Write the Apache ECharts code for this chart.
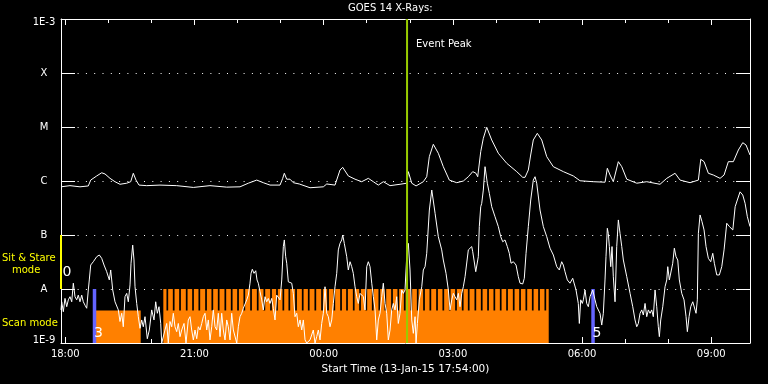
<!DOCTYPE html>
<html><head><meta charset="utf-8">
<script src="https://cdn.jsdelivr.net/npm/echarts@6/dist/echarts.min.js"></script>
<style>html,body{margin:0;padding:0;background:#000;}#c{width:768px;height:384px;}</style>
</head><body><div id="c"></div>
<script>
// x values: hours since 13-Jan-15 18:00 ; axis runs 17:54 -> 09:54
const timeRange = [-0.1, 15.9];
const hourTicks = [0,1,2,3,4,5,6,7,8,9,10,11,12,13,14,15];
const labelHours = [0,3,6,9,12,15];
const levelLabels = ['1E-9','A','B','C','M','X','1E-3'];

// GOES 14 long channel (1-8 A), [hours, W/m2]
const longChannel = [
[-0.1,7.8e-7],[0.109,8.2e-7],[0.341,7.8e-7],[0.534,8.1e-7],[0.590,1.04e-6],[0.729,1.24e-6],[0.845,1.42e-6],[0.922,1.35e-6],[1.038,1.12e-6],[1.154,9.7e-7],[1.270,8.7e-7],[1.426,9.1e-7],[1.519,9.7e-7],[1.579,1.39e-6],[1.642,1.04e-6],[1.712,8.4e-7],[1.890,8.2e-7],[2.199,8.4e-7],[2.587,8.2e-7],[2.973,7.6e-7],[3.360,8.2e-7],[3.748,7.7e-7],[4.057,7.8e-7],[4.250,9.1e-7],[4.445,1.04e-6],[4.598,9.3e-7],[4.754,8.4e-7],[4.986,8.4e-7],[5.049,1.12e-6],[5.086,1.39e-6],[5.142,1.08e-6],[5.218,1.08e-6],[5.295,9.3e-7],[5.434,8.8e-7],[5.683,7.5e-7],[5.992,7.8e-7],[6.071,8.8e-7],[6.263,8.4e-7],[6.380,1.6e-6],[6.442,1.79e-6],[6.572,1.24e-6],[6.728,1.08e-6],[6.883,9.7e-7],[7.037,1.12e-6],[7.153,9.7e-7],[7.269,8.4e-7],[7.385,9.7e-7],[7.541,8.2e-7],[7.773,8.7e-7],[7.929,9.1e-7],[7.966,1.49e-6],[8.045,9.1e-7],[8.145,8.1e-7],[8.314,9.7e-7],[8.393,1.2e-6],[8.453,2.82e-6],[8.546,4.78e-6],[8.662,3.26e-6],[8.778,1.84e-6],[8.918,1.04e-6],[9.090,9.3e-7],[9.243,1.0e-6],[9.359,1.2e-6],[9.461,1.49e-6],[9.538,1.39e-6],[9.577,1.2e-6],[9.647,3.49e-6],[9.707,6.17e-6],[9.786,9.9e-6],[9.902,5.75e-6],[10.056,3.26e-6],[10.251,2.13e-6],[10.483,1.49e-6],[10.622,1.17e-6],[10.676,1.17e-6],[10.752,1.6e-6],[10.803,2.9e-6],[10.868,5.75e-6],[10.961,7.64e-6],[11.064,5.75e-6],[11.180,2.82e-6],[11.333,1.84e-6],[11.566,1.49e-6],[11.798,1.24e-6],[11.954,1.01e-6],[12.262,9.7e-7],[12.534,9.5e-7],[12.587,1.72e-6],[12.650,1.29e-6],[12.726,9.7e-7],[12.843,2.28e-6],[12.922,1.84e-6],[13.038,1.08e-6],[13.270,9.1e-7],[13.502,9.7e-7],[13.811,8.7e-7],[13.967,1.12e-6],[14.160,1.39e-6],[14.276,1.04e-6],[14.508,9.3e-7],[14.701,1.04e-6],[14.757,2.52e-6],[14.833,2.28e-6],[14.933,1.39e-6],[15.049,1.29e-6],[15.205,1.12e-6],[15.298,1.29e-6],[15.397,2.28e-6],[15.513,2.28e-6],[15.630,3.75e-6],[15.732,5.12e-6],[15.808,4.64e-6],[15.9,3.03e-6]
];

// GOES 14 short channel (0.5-4 A), [hours, W/m2]
const shortChannel = [
[-0.1,4.1e-9],[-0.084,5.8e-9],[-0.046,3.8e-9],[-0.007,6.7e-9],[0.033,4.7e-9],[0.07,6.3e-9],[0.109,7.2e-9],[0.149,5.8e-9],[0.186,1.28e-8],[0.225,7.2e-9],[0.265,6.3e-9],[0.302,7.7e-9],[0.341,5.8e-9],[0.381,7.7e-9],[0.418,5.8e-9],[0.458,5.0e-9],[0.497,4.4e-9],[0.534,9.6e-9],[0.557,1.47e-8],[0.59,2.78e-8],[0.65,3.2e-8],[0.729,3.96e-8],[0.79,4.26e-8],[0.845,3.7e-8],[0.899,2.78e-8],[0.961,2.09e-8],[1.022,1.47e-8],[1.054,2.25e-8],[1.101,9.6e-9],[1.154,5.8e-9],[1.231,4.1e-9],[1.27,2.5e-9],[1.31,3.55e-9],[1.347,2.0e-9],[1.386,7.2e-9],[1.426,8.3e-9],[1.463,5.8e-9],[1.503,1.19e-8],[1.526,3.0e-8],[1.565,6.5e-8],[1.595,3.44e-8],[1.619,1.1e-8],[1.658,5.4e-9],[1.695,3.07e-9],[1.735,1.87e-9],[1.774,2.67e-9],[1.811,2.0e-9],[1.851,3.07e-9],[1.904,1.2e-9],[1.951,1.74e-9],[2.006,4.1e-9],[2.06,2.67e-9],[2.099,5.8e-9],[2.137,3.55e-9],[2.176,4.7e-9],[2.216,2.3e-9],[2.239,1.0e-9],[2.315,1.74e-9],[2.355,2.3e-9],[2.392,1.0e-9],[2.431,2.5e-9],[2.471,2.0e-9],[2.508,3.55e-9],[2.547,2.0e-9],[2.587,1.62e-9],[2.624,2.3e-9],[2.664,1.31e-9],[2.703,1.74e-9],[2.757,2.3e-9],[2.803,1.0e-9],[2.856,2.67e-9],[2.896,3.07e-9],[2.935,1.74e-9],[2.973,1.14e-9],[3.012,1.74e-9],[3.052,1.2e-9],[3.089,2.0e-9],[3.128,1.74e-9],[3.168,2.3e-9],[3.205,3.07e-9],[3.244,3.55e-9],[3.284,1.74e-9],[3.321,2.67e-9],[3.36,1.14e-9],[3.4,2.0e-9],[3.437,4.1e-9],[3.477,2.0e-9],[3.516,1.74e-9],[3.553,3.55e-9],[3.593,1.31e-9],[3.632,3.55e-9],[3.669,1.74e-9],[3.709,1.14e-9],[3.748,2.67e-9],[3.785,2.0e-9],[3.825,1.14e-9],[3.864,3.55e-9],[3.902,1.74e-9],[3.941,1.74e-9],[3.981,1.0e-9],[4.018,2.0e-9],[4.057,3.07e-9],[4.097,3.55e-9],[4.134,4.4e-9],[4.173,4.1e-9],[4.213,6.3e-9],[4.25,7.7e-9],[4.289,1.28e-8],[4.313,1.95e-8],[4.343,2.32e-8],[4.382,1.95e-8],[4.422,2.18e-8],[4.452,1.47e-8],[4.482,1.28e-8],[4.522,8.9e-9],[4.561,6.3e-9],[4.598,4.1e-9],[4.638,7.2e-9],[4.677,5.8e-9],[4.714,6.7e-9],[4.754,5.4e-9],[4.793,6.7e-9],[4.83,4.4e-9],[4.87,2.67e-9],[4.909,7.7e-9],[4.947,8.3e-9],[4.986,6.3e-9],[5.026,1.47e-8],[5.063,6.1e-8],[5.086,8.1e-8],[5.118,3.96e-8],[5.142,3.0e-8],[5.179,1.36e-8],[5.218,1.47e-8],[5.258,1.28e-8],[5.295,8.3e-9],[5.334,3.07e-9],[5.374,3.55e-9],[5.411,2.0e-9],[5.451,2.67e-9],[5.49,1.74e-9],[5.527,2.67e-9],[5.567,1.14e-9],[5.606,1.0e-9],[5.683,1.14e-9],[5.759,1.74e-9],[5.799,1.0e-9],[5.838,1.31e-9],[5.876,1.74e-9],[5.915,1.14e-9],[5.954,2.3e-9],[5.992,3.55e-9],[6.031,1.1e-8],[6.071,3.55e-9],[6.108,3.07e-9],[6.147,2.0e-9],[6.187,2.67e-9],[6.224,5.4e-9],[6.263,1.1e-8],[6.303,1.95e-8],[6.34,5.3e-8],[6.379,7.0e-8],[6.419,8.1e-8],[6.442,1.0e-7],[6.479,7.0e-8],[6.535,3.96e-8],[6.572,2.25e-8],[6.612,3.2e-8],[6.651,2.59e-8],[6.688,1.95e-8],[6.728,1.1e-8],[6.767,7.2e-9],[6.804,5.4e-9],[6.844,8.3e-9],[6.883,8.9e-9],[6.921,7.2e-9],[6.96,4.1e-9],[7.0,2.59e-8],[7.037,3.2e-8],[7.076,2.59e-8],[7.116,1.28e-8],[7.153,7.2e-9],[7.193,4.1e-9],[7.232,1.14e-9],[7.269,2.67e-9],[7.308,3.55e-9],[7.348,7.2e-9],[7.385,1.28e-8],[7.425,5.4e-9],[7.464,3.55e-9],[7.501,1.14e-9],[7.541,1.74e-9],[7.58,4.1e-9],[7.617,5.4e-9],[7.657,4.1e-9],[7.696,7.2e-9],[7.733,2.3e-9],[7.773,3.55e-9],[7.812,9.6e-9],[7.85,8.3e-9],[7.889,9.6e-9],[7.928,3.96e-8],[7.966,7.0e-8],[8.005,2.25e-8],[8.045,2.67e-9],[8.082,1.51e-9],[8.122,3.07e-9],[8.145,1.0e-9],[8.176,2.3e-9],[8.221,6.3e-9],[8.277,1.1e-8],[8.314,2.25e-8],[8.354,2.59e-8],[8.393,4.58e-8],[8.454,2.9e-7],[8.51,6.8e-7],[8.533,6.3e-7],[8.587,2.52e-7],[8.662,9.3e-8],[8.741,5.3e-8],[8.778,3.44e-8],[8.841,1.95e-8],[8.895,9.6e-9],[8.934,4.1e-9],[8.974,6.3e-9],[9.011,8.3e-9],[9.05,7.2e-9],[9.09,6.3e-9],[9.127,8.3e-9],[9.166,4.7e-9],[9.206,8.3e-9],[9.243,1.1e-8],[9.283,1.69e-8],[9.322,1.82e-8],[9.359,5.3e-8],[9.399,5.7e-8],[9.438,6.1e-8],[9.461,4.9e-8],[9.491,3.44e-8],[9.531,2.09e-8],[9.568,1.95e-8],[9.591,3.96e-8],[9.614,1.43e-7],[9.647,3.34e-7],[9.67,3.86e-7],[9.707,6.8e-7],[9.747,1.84e-6],[9.77,1.84e-6],[9.8,9.1e-7],[9.847,5.9e-7],[9.902,3.34e-7],[9.979,2.18e-7],[10.056,1.43e-7],[10.111,9.3e-8],[10.158,7.5e-8],[10.211,8.1e-8],[10.265,6.1e-8],[10.311,4.58e-8],[10.351,3.0e-8],[10.404,3.2e-8],[10.467,2.78e-8],[10.52,1.69e-8],[10.56,1.28e-8],[10.622,1.24e-8],[10.659,1.58e-8],[10.699,4.58e-8],[10.752,1.43e-7],[10.808,4.45e-7],[10.868,1.04e-6],[10.908,1.2e-6],[10.947,9.1e-7],[11.024,2.9e-7],[11.101,1.43e-7],[11.18,9.3e-8],[11.256,5.7e-8],[11.333,4.26e-8],[11.412,2.59e-8],[11.472,2.25e-8],[11.527,3.2e-8],[11.565,2.78e-8],[11.604,2.09e-8],[11.658,1.47e-8],[11.72,1.28e-8],[11.783,1.58e-8],[11.813,1.47e-8],[11.86,9.6e-9],[11.913,5.4e-9],[11.937,2.3e-9],[11.969,6.3e-9],[12.006,5.4e-9],[12.03,6.3e-9],[12.069,9.6e-9],[12.108,5.4e-9],[12.146,4.7e-9],[12.185,7.2e-9],[12.248,9.6e-9],[12.301,6.3e-9],[12.341,4.7e-9],[12.378,4.4e-9],[12.417,3.55e-9],[12.457,2.15e-9],[12.494,3.55e-9],[12.533,1.47e-8],[12.556,3.96e-8],[12.587,1.33e-7],[12.61,1.07e-7],[12.634,6.1e-8],[12.666,2.59e-8],[12.696,6.1e-8],[12.726,1.69e-8],[12.766,5.8e-9],[12.805,6.1e-8],[12.843,1.9e-7],[12.882,1.07e-7],[12.922,6.1e-8],[12.959,3.44e-8],[13.038,1.69e-8],[13.115,8.3e-9],[13.177,4.7e-9],[13.23,2.67e-9],[13.27,2.0e-9],[13.307,2.3e-9],[13.347,3.55e-9],[13.386,4.1e-9],[13.423,3.3e-9],[13.463,5.4e-9],[13.502,3.07e-9],[13.539,4.1e-9],[13.579,3.55e-9],[13.618,4.1e-9],[13.655,3.07e-9],[13.695,9.6e-9],[13.734,4.7e-9],[13.771,2.0e-9],[13.795,1.31e-9],[13.827,2.67e-9],[13.874,4.7e-9],[13.927,1.1e-8],[13.967,1.47e-8],[13.99,2.59e-8],[14.027,1.47e-8],[14.059,1.58e-8],[14.106,3.0e-8],[14.143,5.7e-8],[14.182,3.96e-8],[14.222,3.44e-8],[14.259,1.47e-8],[14.315,8.3e-9],[14.368,6.3e-9],[14.415,3.07e-9],[14.445,1.62e-9],[14.485,3.07e-9],[14.524,4.7e-9],[14.571,5.8e-9],[14.608,6.3e-9],[14.647,3.55e-9],[14.677,6.3e-9],[14.701,1.07e-7],[14.74,2.35e-7],[14.786,1.76e-7],[14.833,1.24e-7],[14.879,6.1e-8],[14.933,3.7e-8],[14.988,3.2e-8],[15.035,4.58e-8],[15.072,3.0e-8],[15.128,1.82e-8],[15.188,1.82e-8],[15.244,2.59e-8],[15.298,5.3e-8],[15.36,1.65e-7],[15.423,1.43e-7],[15.501,1.24e-7],[15.555,3.34e-7],[15.606,4.45e-7],[15.669,6.3e-7],[15.732,5.5e-7],[15.786,3.86e-7],[15.839,2.18e-7],[15.9,1.43e-7]
];

// scan-mode blocks: [start hour, end hour, top flux level]
const scanBlocks = [[0.706, 1.751, 4e-9], [2.276, 11.226, 1e-8]];
const scanBaseLevel = 4e-9;
// centres of the gaps between scan cycles (hours)
const scanGapTimes = [2.369,2.517,2.664,2.819,2.966,3.112,3.268,3.414,3.562,3.716,3.864,4.011,4.157,4.313,4.468,4.622,4.777,4.916,5.063,5.202,5.358,5.513,5.653,5.806,5.962,6.101,6.247,6.403,6.542,6.698,6.844,6.990,7.139,7.292,7.432,7.587,7.733,7.882,8.035,8.184,8.330,8.477,8.632,8.778,8.927,9.073,9.229,9.368,9.522,9.670,9.817,9.963,10.111,10.258,10.413,10.560,10.706,10.855,11.001,11.147];

// mode change markers
const modeChangeTimes = [-0.1, 0.678, 12.255];
const modeChangeKinds = ['stare', 'scan', 'scan'];
const modeChangeLabels = ['0', '3', '5'];
const stareBand = [1e-8, 1e-7];
const scanBand = [1e-9, 1e-8];
const eventPeakTime = 7.936;

const FONT = '"DejaVu Sans", sans-serif';
const WHITE = '#ffffff';
const chart = echarts.init(document.getElementById('c'), null, {renderer: 'canvas'});

function hourLabel(v) {
  const h = ((Math.round(v) + 18) % 24 + 24) % 24;
  return (h < 10 ? '0' : '') + h + ':00';
}

const xBase = {type: 'value', min: timeRange[0], max: timeRange[1], splitLine: {show: false},
  axisLine: {onZero: false, lineStyle: {color: WHITE, width: 1}}};

chart.setOption({
  backgroundColor: '#000',
  animation: false,
  grid: {left: 61, right: 18, top: 19, bottom: 41},
  graphic: [
    {type: 'text', left: 348, top: 3, style: {text: 'GOES 14 X-Rays:', fill: WHITE, font: '10px ' + FONT}},
    {type: 'text', left: 2, top: 253, style: {text: 'Sit & Stare', fill: '#ffff00', font: '10px ' + FONT}},
    {type: 'text', left: 12, top: 265, style: {text: 'mode', fill: '#ffff00', font: '10px ' + FONT}},
    {type: 'text', left: 2, top: 318, style: {text: 'Scan mode', fill: '#ffff00', font: '10px ' + FONT}}
  ],
  xAxis: [
    Object.assign({}, xBase, {position: 'bottom',
      axisTick: {inside: true, length: 6, customValues: labelHours, lineStyle: {color: WHITE}},
      axisLabel: {customValues: labelHours, formatter: hourLabel, color: WHITE, fontSize: 10, fontFamily: FONT, margin: 6},
      name: 'Start Time (13-Jan-15 17:54:00)', nameLocation: 'middle', nameGap: 19,
      nameTextStyle: {color: WHITE, fontSize: 10.5, fontFamily: FONT}}),
    Object.assign({}, xBase, {position: 'bottom', axisLine: {show: false, onZero: false},
      axisTick: {inside: true, length: 4, customValues: hourTicks, lineStyle: {color: WHITE}},
      axisLabel: {show: false}}),
    Object.assign({}, xBase, {position: 'top',
      axisTick: {inside: true, length: 6, customValues: labelHours, lineStyle: {color: WHITE}},
      axisLabel: {show: false}}),
    Object.assign({}, xBase, {position: 'top', axisLine: {show: false, onZero: false},
      axisTick: {inside: true, length: 4, customValues: hourTicks, lineStyle: {color: WHITE}},
      axisLabel: {show: false}})
  ],
  yAxis: [
    {type: 'log', logBase: 10, min: 1e-9, max: 1e-3, position: 'left',
      axisLine: {show: true, onZero: false, lineStyle: {color: WHITE, width: 1}},
      axisTick: {show: true, inside: true, length: 14, lineStyle: {color: WHITE}},
      splitLine: {show: true, lineStyle: {color: WHITE, type: [1, 7.3], width: 1}},
      axisLabel: {color: WHITE, fontSize: 10, fontFamily: FONT, align: 'center', margin: 17,
        formatter: function (v) {
          const i = Math.round(Math.log10(v)) + 9;
          const t = levelLabels[i];
          if (i === 0) return '{b|' + t + '}';
          if (i === 6) return '{t|' + t + '}';
          return t;
        },
        rich: {b: {padding: [0, 0, 6, 0], color: WHITE, fontSize: 10, fontFamily: FONT},
               t: {padding: [7, 0, 0, 0], color: WHITE, fontSize: 10, fontFamily: FONT}}}},
    {type: 'log', logBase: 10, min: 1e-9, max: 1e-3, position: 'right',
      axisLine: {show: true, onZero: false, lineStyle: {color: WHITE, width: 1}},
      axisTick: {show: true, inside: true, length: 14, lineStyle: {color: WHITE}},
      splitLine: {show: false}, axisLabel: {show: false}}
  ],
  series: [
    {type: 'custom', name: 'scanBlocks', silent: true, z: 1, clip: true,
      data: scanBlocks, encode: {x: [0, 1], y: 2},
      renderItem: function (params, api) {
        const p0 = api.coord([api.value(0), 1e-9]);
        const p1 = api.coord([api.value(1), api.value(2)]);
        return {type: 'rect', shape: {x: p0[0], y: p1[1], width: p1[0] - p0[0], height: p0[1] - p1[1]},
          style: {fill: '#ff8000'}};
      }},
    {type: 'custom', name: 'scanGaps', silent: true, z: 2, clip: true,
      data: scanGapTimes.map(function (t) { return [t]; }), encode: {x: 0},
      renderItem: function (params, api) {
        const t = api.value(0);
        const a = api.coord([t - 0.02, 1e-8]);
        const b = api.coord([t + 0.02, scanBaseLevel]);
        return {type: 'rect', shape: {x: a[0], y: a[1], width: b[0] - a[0], height: b[1] - a[1]},
          style: {fill: '#000'}};
      }},
    {type: 'custom', name: 'modes', silent: true, z: 3,
      data: modeChangeTimes.map(function (t, i) { return [t, i]; }), encode: {x: 0},
      renderItem: function (params, api) {
        const t = api.value(0);
        const i = api.value(1);
        const stare = modeChangeKinds[i] === 'stare';
        const band = stare ? stareBand : scanBand;
        const top = api.coord([t, band[1]]);
        const bot = api.coord([t, band[0]]);
        return {type: 'group', children: [
          {type: 'line', shape: {x1: top[0], y1: top[1], x2: bot[0], y2: bot[1]},
            style: {stroke: stare ? '#ffff00' : '#6464ff', lineWidth: stare ? 2 : 3.5}},
          {type: 'text', x: top[0] + (stare ? 1.5 : -0.5), y: bot[1] - (stare ? 16.5 : 10),
            style: {text: modeChangeLabels[i], fill: WHITE, font: '14px ' + FONT, verticalAlign: 'middle', align: 'left'}}
        ]};
      }},
    {type: 'line', name: 'short', data: shortChannel, symbol: 'none', showSymbol: false, z: 4, clip: true,
      lineStyle: {color: WHITE, width: 1}},
    {type: 'line', name: 'long', data: longChannel, symbol: 'none', showSymbol: false, z: 4, clip: true,
      lineStyle: {color: WHITE, width: 1}},
    {type: 'custom', name: 'eventPeak', silent: true, z: 5,
      data: [[eventPeakTime]], encode: {x: 0},
      renderItem: function (params, api) {
        const t = api.value(0);
        const top = api.coord([t, 1e-3]);
        const bot = api.coord([t, 1e-9]);
        return {type: 'group', children: [
          {type: 'line', shape: {x1: top[0], y1: top[1], x2: bot[0], y2: bot[1]},
            style: {stroke: '#99cc00', lineWidth: 2}},
          {type: 'text', x: top[0] + 9, y: top[1] + 25,
            style: {text: 'Event Peak', fill: WHITE, font: '10px ' + FONT, verticalAlign: 'middle', align: 'left'}}
        ]};
      }}
  ]
});
</script>
</body></html>
